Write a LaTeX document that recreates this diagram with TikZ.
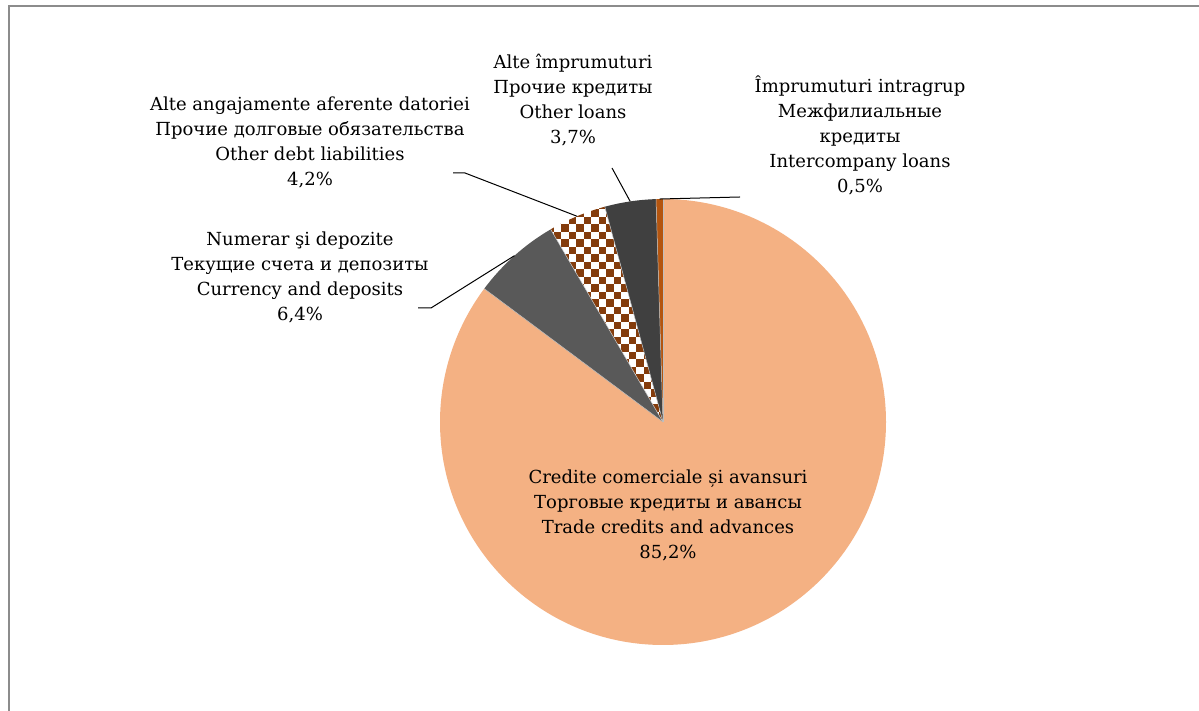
\documentclass[tikz,border=0pt]{standalone}
\usepackage{fontspec}
\setmainfont{DejaVu Serif}
\definecolor{peach}{HTML}{F4B183}
\definecolor{midgray}{HTML}{595959}
\definecolor{darkgray}{HTML}{404040}
\definecolor{brownchk}{HTML}{843C0C}
\definecolor{icbrown}{HTML}{B4550F}
\definecolor{framegray}{HTML}{8C8C8C}
\begin{document}
\begin{tikzpicture}[x=1pt,y=1pt,
  lbl/.style={align=center, font=\fontsize{18}{25}\selectfont, inner sep=0pt},
  leader/.style={draw=black, line width=1pt},
  slice/.style={draw=gray!50, line width=0.5pt}]
\useasboundingbox (0,0) rectangle (1199,711);
\fill[white] (0,0) rectangle (1199,711);
\draw[framegray, line width=2pt] (1210,705) -- (9,705) -- (9,-10);

\begin{scope}[shift={(663,289)}]
  \coordinate (ctr) at (0,0);
  % Trade credits 85.2%
  \fill[peach] (ctr) -- (90:223) arc[start angle=90, end angle=-216.72, radius=223] -- cycle;
  % Currency 6.4%
  \fill[midgray] (ctr) -- (143.28:223) arc[start angle=143.28, end angle=120.24, radius=223] -- cycle;
  % Other debt 4.2% (checker)
  \fill[white] (ctr) -- (120.24:223) arc[start angle=120.24, end angle=105.12, radius=223] -- cycle;
  \begin{scope}
    \clip (ctr) -- (120.24:223) arc[start angle=120.24, end angle=105.12, radius=223] -- cycle;
    \foreach \i in {0,...,17}{
      \foreach \j in {0,2,...,32}{
        \fill[brownchk] ({-117+\i*7.5},{-5+(\j+mod(\i,2))*7.5}) rectangle ++(7.5,7.5);
      }
    }
  \end{scope}
  % Other loans 3.7%
  \fill[darkgray] (ctr) -- (105.12:223) arc[start angle=105.12, end angle=91.80, radius=223] -- cycle;
  % Intercompany 0.5%
  \fill[icbrown] (ctr) -- (91.80:223) arc[start angle=91.80, end angle=90, radius=223] -- cycle;
  % slice borders
  \foreach \a in {90,143.28,120.24,105.12,91.80}{
    \draw[slice] (ctr) -- (\a:223);
  }
  \coordinate (pcd) at (131.76:223);
  \coordinate (pod) at (112.68:223);
  \coordinate (pol) at (98.46:223);
  \coordinate (pic) at (90.9:223);
\end{scope}

% labels
\node[lbl] (ol) at (573,610.5) {Alte împrumuturi\\Прочие кредиты\\Other loans\\3,7\%};
\node[lbl] (ic) at (860,576) {Împrumuturi intragrup\\Межфилиальные\\кредиты\\Intercompany loans\\0,5\%};
\node[lbl] (od) at (310,568.5) {Alte angajamente aferente datoriei\\Прочие долговые обязательства\\Other debt liabilities\\4,2\%};
\node[lbl] (cd) at (300,433.5) {Numerar şi depozite\\Текущие счета и депозиты\\Currency and deposits\\6,4\%};
\node[lbl] (tc) at (668,195.5) {Credite comerciale și avansuri\\Торговые кредиты и авансы\\Trade credits and advances\\85,2\%};

% leader lines
\coordinate (lcd1) at (418,403);
\coordinate (lcd2) at (431,403);
\coordinate (lod1) at (453,538);
\coordinate (lod2) at (465,538);
\coordinate (lol) at (612,543);
\coordinate (lic) at (740,514);
\draw[leader] (lcd1) -- (lcd2) -- (pcd);
\draw[leader] (lod1) -- (lod2) -- (pod);
\draw[leader] (lol) -- (pol);
\draw[leader] (pic) -- (lic);
\end{tikzpicture}
\end{document}
